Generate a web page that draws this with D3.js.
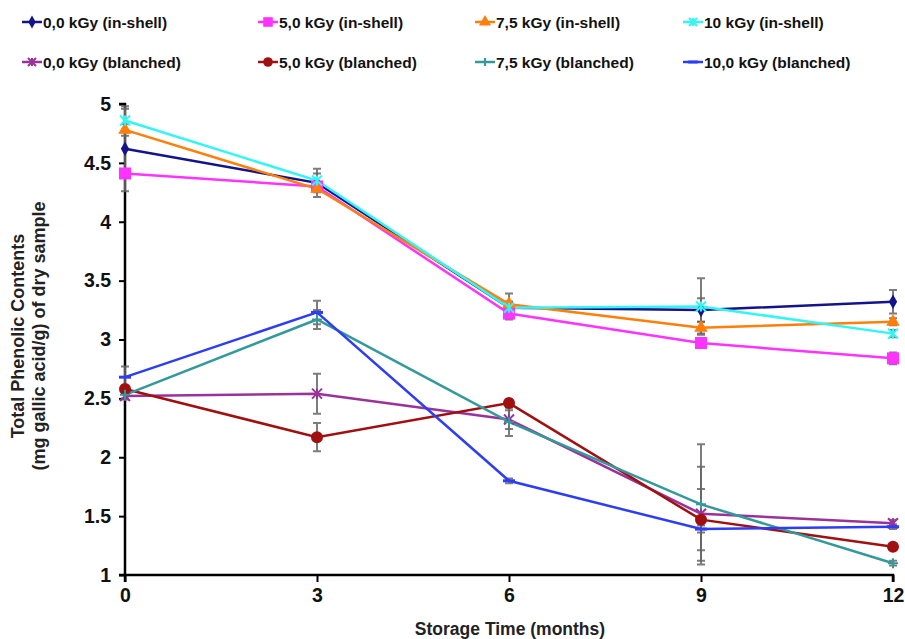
<!DOCTYPE html>
<html><head><meta charset="utf-8">
<script src="https://cdn.jsdelivr.net/npm/d3@7"></script>
<style>
body{margin:0;background:#fff;}
text{font-family:"Liberation Sans",Arial,sans-serif;}
</style></head>
<body><svg id="c" width="905" height="639"></svg>
<script>
const months = [0, 3, 6, 9, 12];
const xTicks = [0, 3, 6, 9, 12];
const yTicks = [1, 1.5, 2, 2.5, 3, 3.5, 4, 4.5, 5];
const seriesNames = ["0,0 kGy (in-shell)", "5,0 kGy (in-shell)", "7,5 kGy (in-shell)", "10 kGy (in-shell)",
  "0,0 kGy (blanched)", "5,0 kGy (blanched)", "7,5 kGy (blanched)", "10,0 kGy (blanched)"];
const inshell00 = [4.62, 4.33, 3.27, 3.25, 3.32];
const inshell50 = [4.41, 4.30, 3.22, 2.97, 2.84];
const inshell75 = [4.78, 4.28, 3.30, 3.10, 3.15];
const inshell10 = [4.86, 4.35, 3.27, 3.28, 3.05];
const blanched00 = [2.52, 2.54, 2.32, 1.52, 1.44];
const blanched50 = [2.58, 2.17, 2.46, 1.47, 1.24];
const blanched75 = [2.53, 3.17, 2.30, 1.60, 1.10];
const blanched10 = [2.68, 3.23, 1.80, 1.39, 1.41];
const err_inshell00 = [0.36, 0.12, 0.05, 0.10, 0.10];
const err_inshell50 = [0.03, 0.03, 0.05, 0.04, 0.05];
const err_inshell75 = [0.05, 0.03, 0.09, 0.05, 0.03];
const err_inshell10 = [0.10, 0.06, 0.05, 0.24, 0.03];
const err_blanched00 = [0.03, 0.17, 0.08, 0.40, 0.03];
const err_blanched50 = [0.03, 0.12, 0.03, 0.26, 0.02];
const err_blanched75 = [0.03, 0.08, 0.12, 0.51, 0.02];
const err_blanched10 = [0.09, 0.10, 0.02, 0.03, 0.02];

const values = [inshell00, inshell50, inshell75, inshell10, blanched00, blanched50, blanched75, blanched10];
const errors = [err_inshell00, err_inshell50, err_inshell75, err_inshell10, err_blanched00, err_blanched50, err_blanched75, err_blanched10];
const colors = ["#14148a", "#ff33ff", "#ff7f0a", "#33f5f5", "#993399", "#a01010", "#33999a", "#2d3df5"];
const markers = ["diamond", "square", "triangle", "asterisk", "star", "circle", "plus", "dash"];

const svg = d3.select("#c");
const x = d3.scaleLinear().domain([0, 12]).range([125, 893]);
const y = d3.scaleLinear().domain([1, 5]).range([575, 104]);

// axes
const yAxis = d3.axisLeft(y).tickValues(yTicks).tickFormat(d => d3.format("")(d)).tickSize(6).tickPadding(8);
const gy = svg.append("g").attr("transform", "translate(125,0)").call(yAxis);
const xAxis = d3.axisBottom(x).tickValues(xTicks).tickSize(7).tickPadding(6);
const gx = svg.append("g").attr("transform", "translate(0,575)").call(xAxis);
[gy, gx].forEach(g => {
  g.select(".domain").attr("stroke", "#000").attr("stroke-width", 2.5);
  g.selectAll(".tick line").attr("stroke", "#000").attr("stroke-width", 2);
  g.selectAll(".tick text").attr("font-size", 19.5).attr("font-weight", "bold").attr("fill", "#111")
    .style("font-family", "'Liberation Sans',Arial,sans-serif");
});
gx.select(".domain").attr("d", "M125,7V0H893V7");
gy.select(".domain").attr("d", "M-6,104H0V575H-6");

// titles
svg.append("text").attr("x", 510).attr("y", 635).attr("text-anchor", "middle")
  .attr("font-size", 17.5).attr("font-weight", "bold").attr("fill", "#222").text("Storage Time (months)");
const yt = svg.append("text").attr("transform", "translate(0,336) rotate(-90)").attr("text-anchor", "middle")
  .attr("font-size", 18).attr("font-weight", "bold").attr("fill", "#222");
yt.append("tspan").attr("x", 0).attr("y", 24).text("Total Phenolic Contents");
yt.append("tspan").attr("x", 0).attr("y", 45).text("(mg gallic acid/g) of dry sample");

function drawMarker(g, type, color, cx, cy, s) {
  const sz = s || 1;
  if (type === "diamond") {
    g.append("path").attr("d", d3.symbol(d3.symbolDiamond, 60 * sz)()).attr("transform", `translate(${cx},${cy})`).attr("fill", color);
  } else if (type === "square") {
    g.append("rect").attr("x", cx - 6 * sz).attr("y", cy - 6 * sz).attr("width", 12 * sz).attr("height", 12 * sz).attr("fill", color);
  } else if (type === "triangle") {
    g.append("path").attr("d", d3.symbol(d3.symbolTriangle, 80 * sz)()).attr("transform", `translate(${cx},${cy})`).attr("fill", color);
  } else if (type === "circle") {
    g.append("circle").attr("cx", cx).attr("cy", cy).attr("r", 6 * sz).attr("fill", color);
  } else if (type === "asterisk" || type === "star") {
    const r = 5 * sz;
    g.append("path").attr("d", `M${cx - r},${cy - r}L${cx + r},${cy + r}M${cx - r},${cy + r}L${cx + r},${cy - r}M${cx},${cy - r}V${cy + r}`)
      .attr("stroke", color).attr("stroke-width", 2).attr("fill", "none");
  } else if (type === "plus") {
    const r = 5 * sz;
    g.append("path").attr("d", `M${cx - r},${cy}H${cx + r}M${cx},${cy - r}V${cy + r}`)
      .attr("stroke", color).attr("stroke-width", 2).attr("fill", "none");
  } else if (type === "dash") {
    const r = 6 * sz;
    g.append("path").attr("d", `M${cx - r},${cy}H${cx + r}`)
      .attr("stroke", color).attr("stroke-width", 3).attr("fill", "none");
  }
}

const plot = svg.append("g");
// error bars
values.forEach((vals, i) => {
  const g = plot.append("g");
  vals.forEach((v, j) => {
    const e = errors[i][j];
    const cx = x(months[j]);
    g.append("path").attr("d", `M${cx},${y(v + e)}V${y(v - e)}M${cx - 4},${y(v + e)}H${cx + 4}M${cx - 4},${y(v - e)}H${cx + 4}`)
      .attr("stroke", "#666").attr("stroke-width", 2).attr("fill", "none").attr("opacity", 0.85);
  });
});
// lines
const line = d3.line().x((d, j) => x(months[j])).y(d => y(d));
values.forEach((vals, i) => {
  plot.append("path").datum(vals).attr("d", line).attr("fill", "none").attr("stroke", colors[i]).attr("stroke-width", 2.5);
});
values.forEach((vals, i) => {
  const g = plot.append("g");
  vals.forEach((v, j) => drawMarker(g, markers[i], colors[i], x(months[j]), y(v)));
});

// legend
const legCols = [22, 258, 475, 683];
const legRows = [22, 62];
seriesNames.forEach((name, i) => {
  const lx = legCols[i % 4], ly = legRows[Math.floor(i / 4)];
  const g = svg.append("g");
  g.append("line").attr("x1", lx).attr("x2", lx + 20).attr("y1", ly).attr("y2", ly).attr("stroke", colors[i]).attr("stroke-width", 2.5);
  drawMarker(g, markers[i], colors[i], lx + 10, ly, 0.8);
  g.append("text").attr("x", lx + 21).attr("y", ly + 5.5).attr("font-size", 15.5).attr("font-weight", "bold")
    .attr("fill", "#111").text(name);
});
</script></body></html>
